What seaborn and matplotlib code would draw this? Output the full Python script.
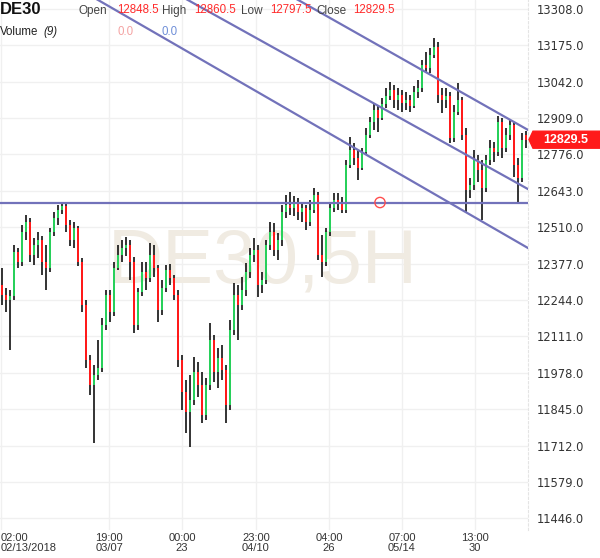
import numpy as np
import pandas as pd
import matplotlib
matplotlib.use("Agg")
import matplotlib.pyplot as plt
import matplotlib.transforms as mtransforms
from matplotlib.patches import Polygon
import seaborn as sns

# DE30 5H candles (Feb 13 - early June 2018)
opens = [12299, 12262, 12244, 12258, 12419, 12383, 12492, 12529, 12408, 12445,
         12463, 12383, 12361, 12492, 12543, 12573, 12587, 12518, 12463, 12507,
         12383, 12226, 12025, 11933, 11970, 11995, 12152, 12262, 12200, 12361,
         12408, 12434, 12445, 12383, 12152, 12273, 12346, 12324, 12408, 12361,
         12207, 12288, 12353, 12324, 12262, 12025, 11908, 11835, 11878, 11981,
         11933, 11824, 11933, 12098, 11981, 12032, 11988, 11860, 12134, 12262,
         12226, 12280, 12346, 12408, 12427, 12299, 12317, 12445, 12492, 12427,
         12463, 12565, 12591, 12580, 12598, 12565, 12580, 12529, 12573, 12628,
         12408, 12383, 12492, 12580, 12609, 12598, 12573, 12737, 12792, 12763,
         12726, 12785, 12847, 12894, 12938, 12909, 12960, 12989, 13011, 12975,
         12993, 12964, 12975, 12953, 13004, 13018, 13102, 13092, 13139, 13168,
         12993, 12975, 12989, 12836, 12931, 12975, 12847, 12646, 12664, 12755,
         12719, 12653, 12755, 12799, 12785, 12894, 12799, 12847, 12883, 12737,
         12690, 12848.5]
closes = [12262, 12244, 12258, 12419, 12383, 12492, 12529, 12408, 12445, 12463,
          12383, 12361, 12492, 12543, 12573, 12587, 12518, 12463, 12507, 12383,
          12226, 12025, 11933, 11970, 11995, 12152, 12262, 12200, 12361, 12408,
          12434, 12445, 12383, 12152, 12273, 12346, 12324, 12408, 12361, 12207,
          12288, 12353, 12324, 12262, 12025, 11908, 11835, 11878, 11981, 11933,
          11824, 11933, 12098, 11981, 12032, 11988, 11860, 12134, 12262, 12226,
          12280, 12346, 12408, 12427, 12299, 12317, 12445, 12492, 12427, 12463,
          12565, 12591, 12580, 12598, 12565, 12580, 12529, 12573, 12628, 12408,
          12383, 12492, 12580, 12609, 12598, 12573, 12737, 12792, 12763, 12726,
          12785, 12847, 12894, 12938, 12909, 12960, 12989, 13011, 12975, 12993,
          12964, 12975, 12953, 13004, 13018, 13102, 13092, 13139, 13168, 12993,
          12975, 12989, 12836, 12931, 12975, 12847, 12646, 12664, 12755, 12719,
          12653, 12755, 12799, 12785, 12894, 12799, 12847, 12883, 12737, 12690,
          12828, 12829.5]
highs = [12361, 12288, 12280, 12445, 12434, 12518, 12554, 12543, 12470, 12492,
         12478, 12445, 12507, 12565, 12591, 12602, 12598, 12536, 12529, 12514,
         12397, 12244, 12043, 12006, 12098, 12178, 12280, 12280, 12383, 12445,
         12463, 12474, 12463, 12401, 12288, 12383, 12383, 12452, 12445, 12372,
         12317, 12372, 12375, 12335, 12280, 12043, 11951, 11970, 12035, 12017,
         11981, 11959, 12160, 12116, 12068, 12079, 12006, 12171, 12306, 12299,
         12328, 12379, 12434, 12470, 12445, 12346, 12463, 12529, 12525, 12489,
         12591, 12628, 12638, 12624, 12617, 12598, 12591, 12609, 12653, 12638,
         12481, 12507, 12598, 12635, 12635, 12620, 12755, 12839, 12817, 12792,
         12799, 12872, 12912, 12964, 12956, 12982, 13018, 13040, 13029, 13018,
         13011, 13004, 12993, 13026, 13048, 13121, 13150, 13165, 13201, 13187,
         13018, 13018, 13004, 12956, 13037, 12986, 12872, 12690, 12792, 12774,
         12755, 12774, 12828, 12821, 12916, 12909, 12872, 12902, 12894, 12763,
         12854, 12860.5]
lows = [12226, 12200, 12061, 12244, 12361, 12368, 12463, 12383, 12372, 12397,
        12335, 12280, 12346, 12478, 12518, 12558, 12492, 12441, 12434, 12368,
        12200, 11995, 11897, 11721, 11951, 11981, 12134, 12163, 12185, 12353,
        12383, 12405, 12317, 12123, 12134, 12258, 12280, 12310, 12328, 12163,
        12189, 12273, 12299, 12244, 11999, 11842, 11758, 11707, 11860, 11889,
        11794, 11805, 11915, 11944, 11922, 11951, 11794, 11842, 12116, 12098,
        12207, 12258, 12324, 12383, 12255, 12269, 12302, 12427, 12405, 12390,
        12441, 12543, 12554, 12551, 12536, 12529, 12500, 12514, 12562, 12390,
        12328, 12368, 12478, 12565, 12573, 12562, 12562, 12726, 12737, 12682,
        12719, 12774, 12836, 12865, 12858, 12902, 12945, 12975, 12945, 12938,
        12931, 12938, 12931, 12945, 12982, 13004, 13077, 13073, 13128, 12964,
        12927, 12945, 12817, 12821, 12920, 12828, 12565, 12617, 12646, 12675,
        12536, 12638, 12737, 12748, 12770, 12763, 12785, 12828, 12693, 12602,
        12675, 12797.5]

# drawn objects (candle index, price)
channel_top = ([72, 140], [13357, 12795])
channel_mid = ([44, 140], [13360, 12580])
channel_low = ([22, 140], [13357, 12362])
support_level = 12600
marker_idx = 94.5

yticks = [11446.0 + 133 * k for k in range(15)]
xtick_pos = [-0.25, 26.75, 45, 63.5, 81.75, 100, 118.25]
xtick_labels = ["02:00\n02/13/2018", "19:00\n03/07", "00:00\n23", "23:00\n04/10",
                "04:00\n26", "07:00\n05/14", "13:00\n30"]

GREEN = "#27d05a"
RED = "#ff1a1a"
LINE = "#7272ba"

sns.set_style("white")
plt.rcParams['font.family'] = ['Liberation Sans', 'DejaVu Sans']

fig = plt.figure(figsize=(6, 5.58), dpi=100)
ax = fig.add_axes([0, 28 / 558, 528 / 600, 530 / 558])

df = pd.DataFrame(dict(i=np.arange(len(closes)), o=opens, h=highs, l=lows, c=closes))
up = df.c >= df.o
colors = np.where(up, GREEN, RED)

# watermark
ax.text(0.498, 0.504, "DE30,5H", transform=ax.transAxes, fontsize=55,
        color="#f0ebe2", ha="center", va="center", zorder=1)

# candles
ax.vlines(df.i, df.l, df.h, color="#111111", lw=1.2, zorder=3)
ax.bar(df.i, (df.c - df.o).abs().clip(lower=2), bottom=np.minimum(df.o, df.c),
       width=0.55, color=colors, linewidth=0, zorder=4)

# trend channel + horizontal level
for xs, ys in (channel_top, channel_mid, channel_low):
    sns.lineplot(x=xs, y=ys, color=LINE, lw=1.6, ax=ax, zorder=5)
sns.lineplot(x=[-1, 140], y=[support_level, support_level], color=LINE, lw=1.6, ax=ax, zorder=5)
ax.scatter([marker_idx], [support_level], s=55, facecolors="none", edgecolors="#ff4d4d",
           linewidths=1.0, zorder=6)

ax.set_xlim(-0.5, 131.5)
ax.set_ylim(11403.4, 13340)

ax.set_yticks(yticks)
ax.set_yticklabels([f"{v:.1f}" for v in yticks], fontsize=8.3, color="#333333",
                   family="DejaVu Sans")
ax.yaxis.tick_right()
ax.set_xticks(xtick_pos)
ax.set_xticklabels(xtick_labels, fontsize=8, color="#333333", linespacing=0.95)
first = ax.get_xticklabels()[0]
first.set_ha("left")
first.set_multialignment("left")
ax.tick_params(axis="y", length=0, pad=6.5)
ax.tick_params(axis="x", length=0, pad=2.5)
ax.grid(True, color="#f0f0f0", lw=1)
ax.set_axisbelow(True)
ax.set_xlabel("")
ax.set_ylabel("")
for side in ("left", "top", "bottom"):
    ax.spines[side].set_visible(False)
ax.spines["right"].set_color("#e4e4e4")
ax.spines["right"].set_linestyle((0, (2, 2)))
ax.spines["right"].set_linewidth(0.8)


def ptext(x, y, s, **kw):
    fig.text(x / 600, 1 - y / 558, s, va="center", **kw)


# header
ptext(0, 10, "DE30", fontsize=12, fontweight="bold", color="#111111")
ptext(79, 11, "Open", fontsize=8.5, color="#444444")
ptext(117, 10, "12848.5", fontsize=8.3, color="#ff2a2a")
ptext(162, 11, "High", fontsize=8.5, color="#444444")
ptext(194, 10, "12860.5", fontsize=8.3, color="#ff2a2a")
ptext(241, 11, "Low", fontsize=8.5, color="#444444")
ptext(270, 10, "12797.5", fontsize=8.3, color="#ff2a2a")
ptext(316, 11, "Close", fontsize=8.5, color="#444444")
ptext(353, 10, "12829.5", fontsize=8.3, color="#ff2a2a")
ptext(0, 32, "Volume", fontsize=8.3, color="#222222")
ptext(43, 32, "(9)", fontsize=8.3, color="#222222", style="italic")
ptext(117, 32, "0.0", fontsize=8.3, color="#f4a3a3")
ptext(162, 32, "0.0", fontsize=8.3, color="#6f8fd8")

# last price tag
yd = ax.transData.transform((0, closes[-1]))[1]
tag = Polygon([(529, yd), (533, yd + 8.5), (600, yd + 8.5), (600, yd - 8.5), (533, yd - 8.5)],
              closed=True, transform=mtransforms.IdentityTransform(), color="#ff1a1a", zorder=10)
fig.add_artist(tag)
fig.text(566 / 600, yd / 558, "12829.5", color="white", fontsize=9, fontweight="bold",
         ha="center", va="center", zorder=11)

fig.savefig("out.png", dpi=100)
